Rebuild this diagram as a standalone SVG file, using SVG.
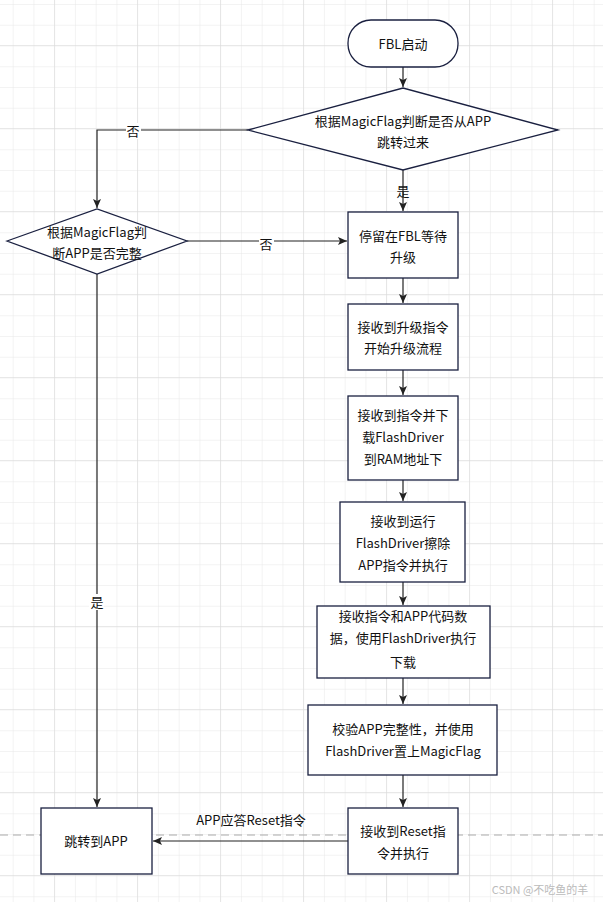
<svg xmlns="http://www.w3.org/2000/svg" width="603" height="902" viewBox="0 0 603 902">
<defs>
<pattern id="g" width="20.75" height="20.75" patternUnits="userSpaceOnUse" x="12.7" y="4"><path d="M0 0H20.75M0 0V20.75" fill="none" stroke="#e8e8e8" stroke-width="1"/></pattern>
<pattern id="G" width="83" height="83" patternUnits="userSpaceOnUse" x="54" y="45"><path d="M0 0H83M0 0V83" fill="none" stroke="#d8d8d8" stroke-width="1"/></pattern>
<marker id="a" markerWidth="10" markerHeight="10" refX="9" refY="5" orient="auto" markerUnits="userSpaceOnUse"><path d="M0 1L9 5L0 9L2 5Z" fill="#222"/></marker>
<style>
.n{fill:#fff;stroke:#1a2040;stroke-width:1.3}
.t{font-family:"Microsoft YaHei","Noto Sans CJK SC",sans-serif;font-size:13px;fill:#111;text-anchor:middle}
.c{fill:none;stroke:#222;stroke-width:1.2;marker-end:url(#a)}
.l{fill:#fff}
</style>
</defs>
<rect width="603" height="902" fill="#fff"/>
<rect width="603" height="902" fill="url(#g)"/>
<rect width="603" height="902" fill="url(#G)"/>
<line x1="0" y1="835" x2="603" y2="835" stroke="#aaa" stroke-dasharray="8,5"/>
<g id="connectors">
<path class="c" d="M403 67V87"/>
<path class="c" d="M248 130H97V208"/>
<rect class="l" x="126" y="123" width="15" height="16"/>
<text class="t" x="133" y="136">否</text>
<path class="c" d="M403 170V211"/>
<text class="t" x="403" y="196">是</text>
<path class="c" d="M187 241H347"/>
<rect class="l" x="259" y="236" width="15" height="16"/>
<text class="t" x="266" y="249">否</text>
<path class="c" d="M403 278V303"/>
<path class="c" d="M403 370V395"/>
<path class="c" d="M403 480V501"/>
<path class="c" d="M403 582V605"/>
<path class="c" d="M403 678V704"/>
<path class="c" d="M403 775V807"/>
<path class="c" d="M97 274V807"/>
<rect class="l" x="89" y="594" width="15" height="16"/>
<text class="t" x="97" y="607">是</text>
<path class="c" d="M348 841H153"/>
<text class="t" x="251" y="825">APP应答Reset指令</text>
</g>
<g id="start"><rect class="n" x="348" y="20" width="110" height="47" rx="23"/><text class="t" x="403" y="49">FBL启动</text></g>
<g id="d1"><path class="n" d="M248 130L403 88L558 130L403 170Z"/><text class="t" x="403" y="126">根据MagicFlag判断是否从APP</text><text class="t" x="403" y="147">跳转过来</text></g>
<g id="d2"><path class="n" d="M7 241L97 209L187 241L97 274Z"/><text class="t" x="97" y="237">根据MagicFlag判</text><text class="t" x="97" y="258">断APP是否完整</text></g>
<g id="b1"><rect class="n" x="348" y="212" width="110" height="66"/><text class="t" x="403" y="241">停留在FBL等待</text><text class="t" x="403" y="262">升级</text></g>
<g id="b2"><rect class="n" x="348" y="304" width="110" height="66"/><text class="t" x="403" y="332">接收到升级指令</text><text class="t" x="403" y="353">开始升级流程</text></g>
<g id="b3"><rect class="n" x="348" y="396" width="110" height="84"/><text class="t" x="403" y="420">接收到指令并下</text><text class="t" x="403" y="442">载FlashDriver</text><text class="t" x="403" y="464">到RAM地址下</text></g>
<g id="b4"><rect class="n" x="340" y="502" width="125" height="80"/><text class="t" x="403" y="526">接收到运行</text><text class="t" x="403" y="548">FlashDriver擦除</text><text class="t" x="403" y="570">APP指令并执行</text></g>
<g id="b5"><rect class="n" x="317" y="606" width="173" height="72"/><text class="t" x="403" y="621" dx="0">接收指令和APP代码数</text><text class="t" x="403" y="643">据，使用FlashDriver执行</text><text class="t" x="403" y="667">下载</text></g>
<g id="b6"><rect class="n" x="308" y="705" width="189" height="70"/><text class="t" x="403" y="734">校验APP完整性，并使用</text><text class="t" x="403" y="756">FlashDriver置上MagicFlag</text></g>
<g id="b7"><rect class="n" x="348" y="808" width="110" height="66"/><text class="t" x="403" y="836">接收到Reset指</text><text class="t" x="403" y="858">令并执行</text></g>
<g id="jump"><rect class="n" x="41" y="808" width="111" height="66"/><text class="t" x="96" y="846">跳转到APP</text></g>
<text x="540" y="894" style="font-family:'Noto Sans CJK SC',sans-serif;font-size:11px;fill:#bbb;text-anchor:middle">CSDN @不吃鱼的羊</text>
</svg>
